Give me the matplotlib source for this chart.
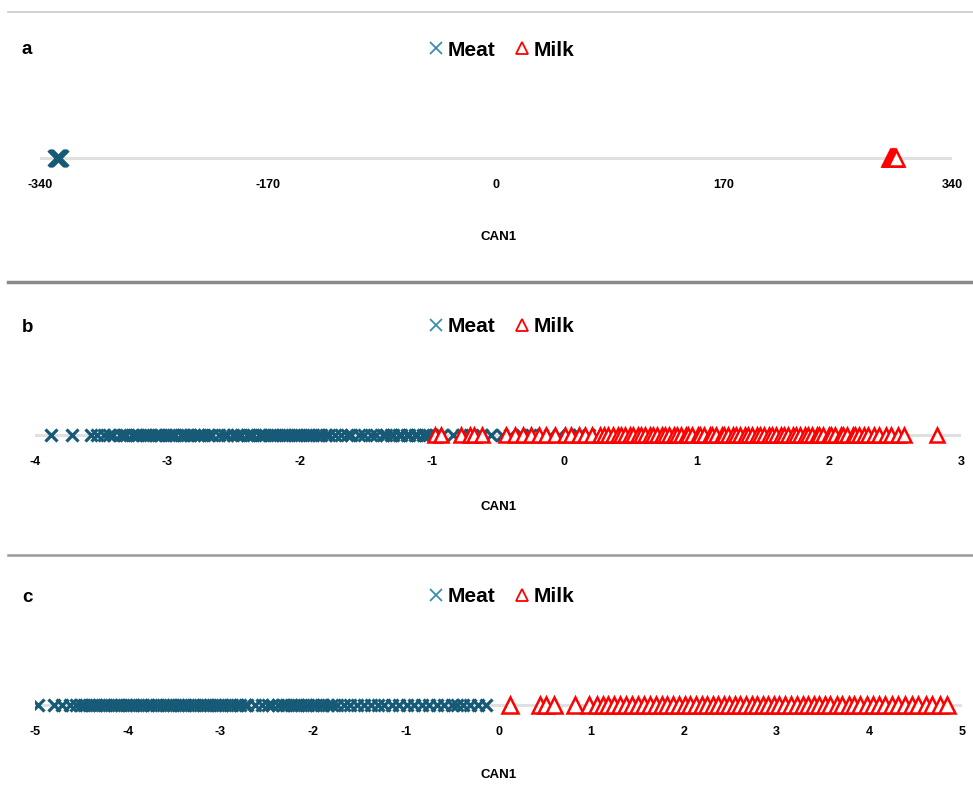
import matplotlib.pyplot as plt
from matplotlib.lines import Line2D
import numpy as np

# CAN1 scores
a_meat = [-328, -327.5, -327, -326.5, -326.5, -326, -325.5, -325]
a_milk = [294, 294.5, 295, 295.5, 296, 296.5, 297, 297.5, 298]

b_meat = [-3.88, -3.72, -3.58, -3.53, -3.48, -3.44, -3.41, -3.36, -3.33, -3.31, -3.27, -3.24,
          -3.22, -3.18, -3.16, -3.13, -3.09, -3.07, -3.05, -3.01, -2.99, -2.96, -2.94, -2.90,
          -2.88, -2.85, -2.83, -2.80, -2.77, -2.75, -2.72, -2.69, -2.66, -2.61, -2.57, -2.55,
          -2.50, -2.47, -2.44, -2.40, -2.38, -2.35, -2.31, -2.29, -2.26, -2.22, -2.20, -2.17,
          -2.13, -2.11, -2.08, -2.04, -2.02, -1.99, -1.95, -1.93, -1.90, -1.86, -1.84, -1.80,
          -1.78, -1.73, -1.69, -1.64, -1.61, -1.55, -1.51, -1.46, -1.42, -1.37, -1.35, -1.31,
          -1.29, -1.25, -1.23, -1.19, -1.17, -1.13, -1.11, -1.07, -1.05, -1.02, -0.97, -0.92,
          -0.84, -0.77, -0.71, -0.62, -0.55, -0.47, -0.41, -0.32, -0.26, -0.17, -0.11, -0.04,
          0.04, 0.11, 0.19]
b_milk = [-0.98, -0.93, -0.78, -0.71, -0.68, -0.62, -0.44, -0.37, -0.31, -0.25, -0.19, -0.14,
          -0.07, 0.01, 0.05, 0.11, 0.16, 0.21, 0.27, 0.30, 0.33, 0.37, 0.41, 0.43, 0.46, 0.50,
          0.52, 0.56, 0.58, 0.61, 0.65, 0.67, 0.70, 0.74, 0.76, 0.79, 0.83, 0.85, 0.88, 0.92,
          0.94, 0.97, 1.01, 1.03, 1.06, 1.10, 1.12, 1.15, 1.19, 1.21, 1.24, 1.28, 1.30, 1.33,
          1.37, 1.39, 1.42, 1.46, 1.48, 1.51, 1.55, 1.57, 1.60, 1.64, 1.66, 1.69, 1.73, 1.75,
          1.78, 1.82, 1.84, 1.87, 1.91, 1.93, 1.96, 2.00, 2.02, 2.05, 2.09, 2.11, 2.14, 2.18,
          2.20, 2.23, 2.27, 2.30, 2.34, 2.38, 2.43, 2.47, 2.52, 2.57, 2.82]

c_meat = [-4.97, -4.80, -4.71, -4.62, -4.56, -4.50, -4.47, -4.42, -4.39, -4.34, -4.31, -4.26,
          -4.23, -4.18, -4.15, -4.10, -4.07, -4.02, -3.99, -3.94, -3.91, -3.86, -3.83, -3.78,
          -3.75, -3.70, -3.67, -3.62, -3.59, -3.54, -3.51, -3.46, -3.43, -3.38, -3.35, -3.30,
          -3.27, -3.22, -3.19, -3.14, -3.11, -3.06, -3.03, -2.98, -2.95, -2.90, -2.87, -2.82,
          -2.79, -2.74, -2.71, -2.63, -2.55, -2.49, -2.44, -2.38, -2.33, -2.29, -2.24, -2.21,
          -2.16, -2.13, -2.08, -2.05, -2.00, -1.97, -1.92, -1.89, -1.84, -1.80, -1.74, -1.67,
          -1.60, -1.53, -1.45, -1.38, -1.30, -1.23, -1.15, -1.07, -0.99, -0.91, -0.83, -0.75,
          -0.66, -0.59, -0.50, -0.45, -0.38, -0.31, -0.22, -0.14]
c_milk = [0.12, 0.45, 0.51, 0.60, 0.82, 0.98, 1.06, 1.13, 1.18, 1.25, 1.31, 1.38, 1.44, 1.50,
          1.57, 1.63, 1.70, 1.76, 1.82, 1.88, 1.95, 2.01, 2.07, 2.13, 2.19, 2.25, 2.31, 2.37,
          2.43, 2.49, 2.55, 2.61, 2.67, 2.73, 2.79, 2.85, 2.91, 2.97, 3.03, 3.09, 3.15, 3.22,
          3.28, 3.34, 3.40, 3.46, 3.52, 3.58, 3.65, 3.71, 3.78, 3.84, 3.90, 3.97, 4.04, 4.10,
          4.17, 4.24, 4.31, 4.38, 4.46, 4.53, 4.61, 4.68, 4.76, 4.84]

panels = [
    ('a', a_meat, a_milk, (-340, 340), [-340, -170, 0, 170, 340], 158, 40, 952, 11, 12, 237),
    ('b', b_meat, b_milk, (-4, 3), [-4, -3, -2, -1, 0, 1, 2, 3], 435, 35, 961, 8.5, 9.5, 507),
    ('c', c_meat, c_milk, (-5, 5), [-5, -4, -3, -2, -1, 0, 1, 2, 3, 4, 5], 705, 35, 962, 9, 11, 775),
]

meat_col = '#175a77'
milk_col = '#ff0000'
W, H = 973, 787

fig = plt.figure(figsize=(W / 100, H / 100), dpi=100)
plt.rcParams['font.family'] = ['Liberation Sans', 'DejaVu Sans']

for letter, meat, milk, lims, ticks, yline, x0, x1, ms_x, ms_t, ylab in panels:
    ax = fig.add_axes([x0 / W, 1 - (yline + 20) / H, (x1 - x0) / W, 40 / H])
    ax.set_xlim(*lims)
    ax.set_ylim(-1, 1)
    ax.axhline(0, color='#e0e0e0', lw=2.2, zorder=0)
    ax.plot(meat, np.zeros(len(meat)), 'x', color=meat_col, ms=ms_x, mew=2.3, label='Meat')
    ax.plot(milk, np.zeros(len(milk)), '^', color=milk_col, mfc='white', ms=ms_t, mew=1.8,
            label='Milk')
    ax.set_xticks(ticks)
    ax.set_xticklabels([str(t) for t in ticks], fontsize=9, fontweight='bold')
    ax.tick_params(length=0, pad=1, left=False, labelleft=False)
    for s in ax.spines.values():
        s.set_visible(False)
    ax.patch.set_alpha(0)
    fig.text(499 / W, 1 - ylab / H, 'CAN1', fontsize=9.5, fontweight='bold',
             ha='center', va='center')

    ytop = yline - 108
    fig.text(22 / W, 1 - ytop / H, letter, fontsize=13.5, fontweight='bold', va='center')
    leg = ax.legend(loc='center', bbox_to_anchor=(502 / W, 1 - ytop / H),
                    bbox_transform=fig.transFigure, ncol=2, frameon=False,
                    prop={'weight': 'bold', 'size': 15},
                    handlelength=0.6, handletextpad=0.25, columnspacing=1.0)
    for h in leg.legend_handles:
        h.set_markeredgewidth(1.3)
        h.set_markersize(9)
    leg.legend_handles[0].set_color('#3a8fb0')

# separators between the panels
fig.add_artist(Line2D([8 / W, 1], [1 - 12 / H] * 2, color='#c8c8c8', lw=1.2))
fig.add_artist(Line2D([8 / W, 1], [1 - 282 / H] * 2, color='#8a8a8a', lw=2.5))
fig.add_artist(Line2D([8 / W, 1], [1 - 555 / H] * 2, color='#9a9a9a', lw=1.8))

plt.savefig('out.png', dpi=100)
